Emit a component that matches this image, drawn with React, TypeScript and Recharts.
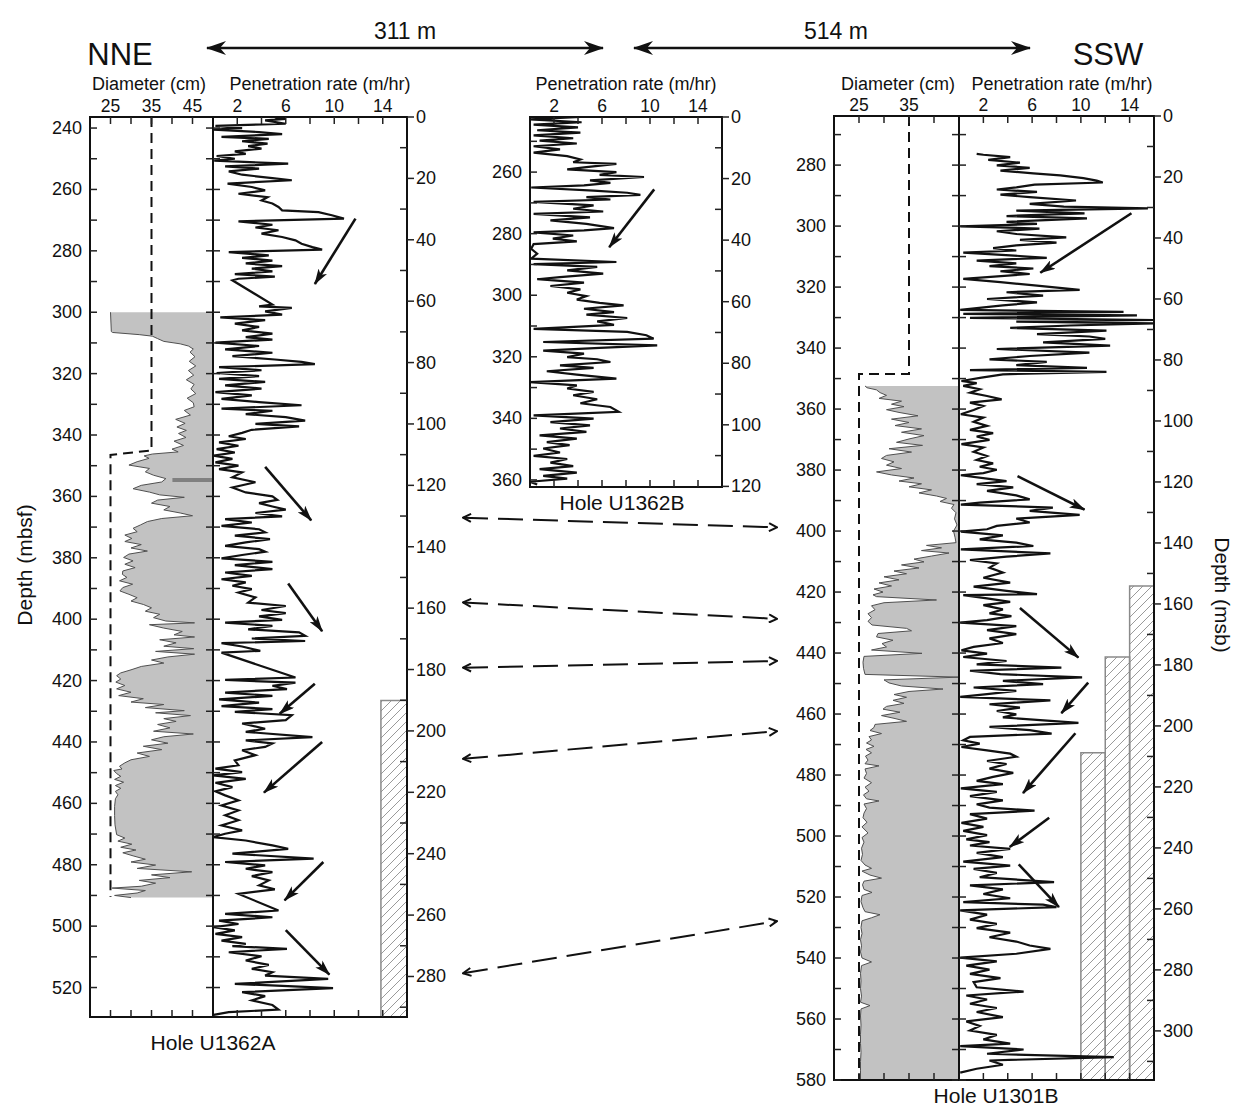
import React from "react";
import { ComposedChart, Line, Area, XAxis, YAxis, ReferenceArea, ReferenceLine } from "recharts";

type Pt = [number, number | null];

const FONT = '"Liberation Sans", Arial, Helvetica, sans-serif';
const M = 60;

// ---------- Hole U1362A (depth mbsf, value) ----------
const u1362aRate: Pt[] = [
  [236.5, 5.1], [237.0, 6.0], [237.5, 4.3], [238.6, 6.0], [239.3, 0.2], [240.0, 2.4], [240.5, 0.05], [241.3, 3.8], [242.0, 5.7], [242.9, 0.7],
  [243.5, 4.6], [244.3, 2.4], [245.1, 4.5], [245.9, 2.9], [246.7, 4.0], [247.6, 1.8], [248.4, 2.7], [249.1, 0.3], [250.0, 1.8], [250.6, 0.1],
  [251.6, 6.2], [252.5, 1.0], [253.2, 3.8], [254.1, 1.3], [255.2, 2.4], [256.3, 4.9], [257.0, 6.5], [258.1, 1.2], [259.2, 3.2], [260.3, 4.3],
  [261.4, 2.1], [262.5, 4.5], [263.6, 4.0], [264.6, 4.9], [265.7, 5.4], [266.8, 5.7], [267.4, 8.7], [268.4, 9.8], [269.5, 10.8], [270.4, 2.1],
  [271.5, 4.9], [272.4, 3.5], [273.3, 5.4], [274.4, 4.0], [275.5, 5.7], [276.6, 6.8], [277.7, 7.3], [278.8, 8.2], [279.6, 9.0], [280.4, 1.3],
  [281.5, 4.6], [282.3, 2.4], [283.2, 4.9], [284.1, 2.7], [285.0, 5.7], [285.8, 3.2], [286.7, 4.9], [287.6, 1.8], [288.4, 5.1], [289.1, 2.1],
  [289.6, 1.6], [293.0, null],
  [297.5, 4.9], [298.1, 3.8], [298.6, 6.5], [299.7, 4.3], [300.8, 5.7], [301.7, 0.6], [302.6, 4.3], [303.7, 1.8], [304.8, 3.8], [305.9, 2.4],
  [307.0, 4.9], [308.1, 2.7], [308.9, 4.9], [309.9, 0.2], [311.0, 3.8], [312.1, 1.0], [313.2, 4.9], [314.3, 1.6], [315.4, 5.1], [316.2, 7.3],
  [316.9, 8.4], [317.9, 0.5], [318.9, 4.0], [319.8, 0.3], [320.8, 3.8], [321.7, 0.5], [322.7, 4.3], [323.8, 1.0], [324.9, 4.0], [326.0, 0.2],
  [327.1, 3.2], [328.2, 0.7], [329.3, 3.8], [330.3, 7.3], [331.4, 0.7], [332.1, 4.9], [333.2, 2.7], [334.2, 6.0], [335.3, 7.6], [336.4, 3.5],
  [337.2, 7.1], [338.3, 3.2], [339.3, 2.4], [340.4, 1.3], [341.3, 2.7], [342.4, 0.5], [343.5, 2.1], [344.6, 0.3], [345.7, 1.8], [346.7, 0.05],
  [347.8, 1.6], [348.9, 0.2], [350.0, 2.1], [351.1, 0.5], [352.2, 2.4], [353.8, 1.6], [355.4, 3.5], [357.1, 1.6], [358.7, 2.7], [360.0, 4.9],
  [361.1, 5.3], [362.2, 3.8], [363.3, 4.9], [364.3, 6.0], [365.4, 3.5], [366.5, 5.7], [367.4, 1.0], [368.5, 3.2], [369.6, 0.7], [370.7, 3.8],
  [371.7, 4.3], [372.8, 1.8], [373.9, 4.7], [375.0, 2.7], [376.1, 1.0], [377.2, 3.8], [378.0, 4.3], [379.1, 2.4], [380.2, 0.7], [381.3, 4.9],
  [382.4, 1.8], [383.7, 4.9], [384.8, 1.0], [385.9, 3.2], [387.0, 0.7], [388.0, 2.7], [389.1, 1.6], [390.2, 3.2], [391.3, 2.1], [392.9, 3.5],
  [394.6, 2.9], [395.7, 6.0], [397.0, 4.0], [398.0, 6.0], [399.1, 3.8], [400.2, 5.7], [401.1, 1.0], [402.2, 4.9], [403.3, 2.9], [404.3, 7.1],
  [405.4, 7.6], [406.3, 3.2], [407.1, 7.6], [407.8, 0.7], [408.9, 2.4], [410.3, 3.9], [410.9, 0.7], [415.0, null],
  [419.0, 6.8], [419.8, 1.0], [420.7, 6.8], [421.7, 4.9], [422.8, 6.1], [423.9, 1.0], [425.0, 4.9], [426.1, 0.5], [427.2, 3.8], [428.3, 0.7],
  [429.3, 4.9], [430.2, 1.8], [431.3, 6.5], [432.9, 6.0], [434.0, 2.4], [435.7, 4.3], [436.7, 2.7], [438.4, 8.2], [439.5, 2.7], [440.5, 4.9],
  [441.6, 4.3], [442.7, 2.4], [444.3, 3.5], [446.0, 1.8], [447.6, 2.1], [448.7, 0.2], [449.8, 2.4], [450.9, 0], [452.0, 2.7], [453.3, 0.2],
  [454.7, 1.6], [456.1, 0.2], [457.4, 1.0], [459.0, 2.1], [460.7, 0.7], [462.3, 2.1], [463.9, 1.0], [465.5, 2.1], [467.2, 0.7], [468.8, 2.4],
  [469.9, 1.0], [471.0, 0], [472.1, 2.7], [473.7, 4.9], [474.8, 6.2], [476.4, 1.6], [478.0, 8.3], [479.1, 1.0], [480.2, 4.3], [481.3, 2.7],
  [482.4, 4.9], [483.7, 3.2], [485.1, 4.6], [486.7, 3.8], [488.0, 5.1], [489.5, 2.1], [492.0, null],
  [494.9, 5.4], [496.0, 1.0], [497.1, 4.9], [498.2, 0.5], [499.3, 2.1], [500.3, 0.05], [501.4, 1.8], [502.5, 0.2], [503.6, 2.4], [504.7, 0.7],
  [505.8, 2.7], [506.5, 1.6], [507.4, 6.1], [508.5, 1.3], [509.8, 4.0], [511.2, 2.7], [512.6, 4.6], [513.9, 3.2], [515.0, 4.9], [516.1, 4.3],
  [517.2, 9.5], [518.8, 1.8], [520.2, 9.9], [521.5, 2.4], [522.8, 4.3], [524.2, 3.2], [525.7, 4.9], [527.2, 5.4], [528.0, 1.3], [528.9, 0.05],
];

const u1362aDiameter: Pt[] = [
  [300.0, 25], [306.3, 25.2], [306.6, 25.5], [307.3, 32], [307.8, 35.2], [308.6, 36.5], [309.5, 38], [310.3, 42], [311.0, 44], [312.0, 45.2],
  [313.0, 44.4], [314.5, 45.6], [316.0, 44.2], [317.5, 45.8], [319.0, 44], [320.5, 45.3], [322.0, 43.5], [323.5, 45.4], [325.0, 44.6], [326.5, 45.8],
  [328.0, 43.7], [329.5, 45.2], [330.8, 45.4], [332.0, 43], [333.5, 44.5], [334.9, 40.9], [336.2, 43.2], [337.4, 41.2], [338.5, 43.5], [339.5, 41.6],
  [340.8, 43.4], [342.0, 40.5], [343.4, 42.8], [344.6, 40.0], [345.5, 41.5], [346.2, 35.2], [346.8, 33.2], [347.6, 34.4], [348.7, 31.5], [349.8, 29.5],
  [350.9, 34.5], [352.0, 33.5], [353.1, 35.5], [354.2, 38.5], [355.3, 37.5], [356.4, 32.5], [357.5, 30.5], [358.6, 34.5], [359.5, 37], [360.3, 43],
  [361.2, 36.5], [362.2, 35], [363.3, 39.5], [364.4, 38], [365.4, 42], [366.3, 45], [367.2, 37.5], [368.2, 34], [369.3, 32.3], [370.4, 30.5],
  [371.5, 31.5], [372.6, 28.5], [373.7, 30.2], [374.7, 28.5], [375.7, 32.5], [376.8, 30], [377.8, 34], [378.8, 29.5], [379.9, 28.2], [381.0, 30.5],
  [382.1, 28.5], [383.2, 31], [384.3, 28], [385.4, 27.9], [386.4, 29], [387.5, 27.2], [388.6, 30.4], [389.7, 28], [390.8, 27.3], [391.9, 29.5],
  [393.0, 31.5], [394.1, 30], [395.2, 33], [396.3, 35], [397.4, 33.5], [398.4, 37], [399.5, 35.5], [400.6, 38.5], [401.2, 45.5], [401.8, 34.5],
  [402.9, 38], [404.0, 42.5], [405.1, 40.5], [405.8, 45.5], [406.7, 37], [407.7, 41], [408.8, 38], [409.6, 45.3], [410.5, 36], [411.4, 45.5],
  [412.3, 39], [413.3, 35], [414.3, 38], [415.4, 32.5], [416.5, 30], [417.5, 27.5], [418.4, 26.5], [419.5, 27.5], [420.5, 26.3], [421.6, 28.5],
  [422.7, 26.5], [423.8, 30], [424.9, 27], [425.9, 33], [427.0, 30], [427.8, 38], [428.8, 33.5], [429.8, 43], [430.5, 36], [431.4, 44.5],
  [432.4, 38], [433.3, 41], [434.3, 36.5], [435.4, 39.5], [436.5, 35.5], [437.4, 45.2], [438.3, 38], [439.3, 35], [440.4, 39], [441.4, 33],
  [442.5, 37.5], [443.6, 31.5], [444.7, 34.5], [445.8, 30], [446.8, 28.5], [447.9, 27.2], [448.8, 27.8], [449.3, 25.8], [450.3, 26.5], [451.2, 27.5],
  [452.2, 26.0], [453.1, 28.2], [454.2, 26.2], [455.1, 27.5], [456.1, 26.2], [457.2, 26.8], [458.5, 26.2], [461.0, 26.0], [464.0, 26.0], [467.0, 26.1],
  [470.2, 26.5], [471.3, 28.5], [472.3, 26.8], [473.3, 30.2], [474.3, 27.5], [475.2, 31.2], [476.1, 28], [477.1, 30.5], [478.2, 33.5], [479.1, 30],
  [480.1, 36], [481.2, 31.5], [482.3, 44.8], [483.3, 35], [484.2, 39.5], [485.1, 32], [486.0, 36], [487.0, 32.5], [487.6, 25.4], [488.4, 33.5],
  [489.2, 31.5], [490.0, 26], [490.7, 30],
];

const u1362aBit: Pt[] = [[236.4, 35], [345.0, 35], [346.5, 25], [490.5, 25]];

// ---------- Hole U1362B ----------
const u1362bRate: Pt[] = [
  [242.1, 4.2], [242.9, 0], [243.8, 4.3], [244.6, 0.3], [245.5, 4.0], [246.4, 0.6], [247.2, 4.2], [248.1, 0.3], [249.0, 3.6], [249.8, 0.8],
  [250.7, 3.9], [251.6, 0.3], [252.6, 2.5], [253.7, 0.3], [254.8, 3.1], [255.9, 4.2], [256.8, 3.6], [257.3, 7.2], [258.4, 4.7], [259.1, 3.1],
  [260.0, 7.2], [260.9, 5.8], [261.6, 9.5], [262.7, 5.0], [263.5, 6.7], [264.3, 4.5], [265.0, 0.1], [266.0, 5.3], [266.7, 8.1], [267.4, 9.2],
  [268.1, 4.7], [268.9, 6.7], [269.7, 0.3], [270.8, 5.3], [271.9, 3.6], [272.8, 6.1], [273.6, 0.3], [274.7, 5.0], [275.7, 1.7], [276.8, 4.7],
  [278.2, 7.0], [278.9, 4.5], [279.6, 0.3], [280.6, 3.6], [281.6, 1.9], [282.5, 3.9], [283.4, 0.3], [284.9, 0.1], [286.5, 0.6], [288.1, 0.1],
  [289.2, 7.2], [289.9, 0.3], [290.8, 5.6], [291.9, 3.1], [293.0, 6.1], [294.1, 2.5], [294.8, 0.6], [295.9, 4.5], [297.0, 1.7], [298.1, 4.2],
  [299.2, 3.1], [300.3, 4.7], [301.4, 3.9], [302.5, 5.8], [303.3, 7.8], [304.4, 4.5], [305.5, 7.0], [306.3, 4.7], [307.4, 8.1], [308.5, 5.6],
  [309.6, 7.0], [310.9, 0.3], [311.9, 8.1], [313.0, 9.7], [314.1, 10.3], [315.2, 1.1], [316.3, 10.6], [317.1, 5.8], [318.0, 1.1], [319.0, 4.5],
  [320.1, 3.1], [320.8, 5.6], [321.7, 6.7], [322.8, 2.5], [323.6, 5.3], [324.7, 1.4], [325.8, 3.9], [327.1, 7.2], [328.2, 0], [329.3, 3.9],
  [330.3, 3.1], [331.4, 5.3], [332.5, 3.6], [333.8, 5.6], [335.1, 4.2], [336.3, 6.7], [337.9, 7.4], [339.0, 0.3], [340.1, 5.3], [341.2, 1.7],
  [342.3, 5.0], [343.3, 2.5], [344.4, 4.7], [345.5, 0.8], [346.6, 3.9], [347.7, 1.4], [348.7, 3.3], [349.8, 1.1], [351.1, 2.5], [352.2, 0.3],
  [353.2, 3.1], [354.4, 1.7], [355.5, 3.6], [356.5, 0.8], [357.6, 3.9], [358.7, 1.1], [359.6, 3.1], [360.6, 0], [361.5, 0.6],
];

// ---------- Hole U1301B ----------
const u1301bRate: Pt[] = [
  [276.3, 1.45], [276.6, 2.0], [277.4, 4.2], [278.3, 2.4], [279.2, 5.0], [280.1, 3.1], [280.9, 5.8], [281.8, 3.4], [282.7, 6.1], [283.4, 8.3],
  [284.3, 10.2], [285.1, 11.3], [285.7, 11.8], [286.4, 6.2], [287.3, 4.7], [288.0, 3.1], [288.8, 6.4], [289.7, 3.4], [290.5, 5.8], [291.6, 9.6],
  [292.7, 5.8], [293.6, 8.6], [294.2, 15.5], [294.9, 4.7], [295.8, 10.3], [296.7, 3.9], [297.5, 10.5], [298.6, 3.9], [299.3, 6.4], [300.1, 0.1],
  [300.8, 6.6], [301.7, 3.1], [302.6, 4.7], [303.7, 8.8], [304.5, 5.0], [305.4, 8.0], [306.3, 4.7], [307.2, 2.8], [308.0, 4.7], [308.7, 0.35],
  [309.6, 4.2], [310.4, 7.2], [311.3, 1.45], [312.2, 4.7], [313.1, 2.5], [313.9, 6.1], [314.8, 3.4], [315.7, 5.8], [317.3, 0.35], [318.4, 3.4],
  [319.5, 6.4], [320.9, 9.9], [321.7, 3.9], [322.8, 6.9], [323.9, 2.3], [325.0, 6.4], [326.0, 3.6], [327.5, 0.1], [328.1, 13.5], [328.8, 0.35],
  [329.3, 14.6], [330.1, 0.9], [330.8, 16], [331.3, 4.7], [331.9, 16], [332.6, 9.1], [333.4, 4.2], [334.3, 12.1], [335.4, 6.4], [336.2, 10.7],
  [337.0, 12.0], [338.1, 6.9], [339.2, 12.4], [340.3, 3.1], [341.5, 10.7], [342.6, 5.8], [343.7, 2.5], [344.5, 7.2], [345.6, 4.7], [346.5, 10.5],
  [347.2, 0.9], [347.8, 12.1], [348.6, 3.6], [349.7, 1.85], [350.8, 0.2], [351.5, 1.45], [352.4, 0.35], [353.5, 1.7], [354.6, 0.9], [355.7, 2.3],
  [356.8, 3.5], [357.9, 0.9], [359.0, 2.0], [360.3, 1.2], [361.7, 0.15], [362.8, 2.0], [364.2, 1.2], [365.5, 2.3], [366.8, 0.9], [367.9, 2.8],
  [369.0, 1.45], [370.1, 2.5], [371.5, 0.2], [372.6, 2.0], [374.0, 1.2], [375.4, 2.3], [376.7, 1.45], [377.8, 2.8], [378.9, 1.7], [379.9, 3.1],
  [381.0, 2.0], [381.7, 0.15], [382.8, 2.3], [383.6, 3.9], [384.6, 1.45], [385.7, 4.45], [386.8, 2.3], [388.3, 4.7], [389.6, 5.8], [390.7, 1.7],
  [391.3, 0.15], [392.3, 7.7], [393.4, 5.8], [394.7, 9.9], [395.9, 4.7], [397.2, 5.8], [398.3, 3.1], [399.4, 2.3], [400.2, 0.15], [401.4, 3.6],
  [402.7, 1.7], [403.8, 4.7], [404.9, 6.1], [406.0, 0.15], [407.3, 7.5], [408.4, 3.9], [409.5, 0.9], [410.6, 3.1], [412.0, 2.5], [413.6, 3.6],
  [415.3, 2.0], [416.9, 4.2], [418.2, 1.2], [419.6, 3.9], [420.7, 6.4], [421.0, 0.35], [422.1, 2.3], [423.2, 4.2], [424.3, 2.0], [425.7, 3.6],
  [427.0, 2.5], [427.9, 4.3], [429.2, 2.3], [430.0, 0.1], [431.2, 4.7], [432.5, 2.3], [433.8, 4.7], [435.2, 2.5], [436.7, 3.6], [438.0, 1.2],
  [439.1, 0.2], [440.2, 2.3], [441.3, 0.35], [442.6, 3.9], [443.7, 1.45], [444.8, 8.4], [445.8, 0.9], [446.9, 3.4], [448.0, 10.1], [449.1, 3.6],
  [450.2, 6.9], [451.3, 1.2], [452.4, 4.7], [453.5, 2.3], [454.4, 0.1], [455.5, 7.5], [456.8, 2.5], [457.9, 5.0], [459.0, 3.1], [460.1, 4.7],
  [461.1, 3.6], [462.9, 9.8], [464.2, 2.5], [465.3, 5.8], [466.4, 7.6], [467.5, 0.9], [468.6, 0.35], [469.7, 1.7], [470.8, 0.2], [471.9, 2.3],
  [473.0, 4.2], [474.0, 4.7], [475.4, 2.3], [476.4, 3.9], [477.9, 2.5], [479.3, 4.45], [480.6, 2.8], [481.9, 1.45], [483.0, 3.6], [484.4, 0.15],
  [485.5, 3.1], [486.9, 0.9], [488.3, 3.6], [489.6, 1.45], [490.7, 2.5], [491.7, 6.2], [492.8, 0.9], [494.3, 2.3], [495.7, 0.2], [497.0, 2.0],
  [498.3, 0.35], [499.7, 2.3], [501.1, 0.6], [502.0, 2.5], [503.1, 0.9], [504.2, 4.2], [505.5, 1.45], [506.9, 3.6], [508.4, 0.35], [509.7, 4.2],
  [510.8, 1.2], [512.1, 3.1], [513.5, 1.7], [515.1, 7.8], [516.2, 0.9], [517.5, 3.6], [519.0, 2.0], [520.4, 4.2], [521.7, 0.35], [522.5, 6.9],
  [523.3, 8.0], [524.4, 0.1], [525.8, 2.3], [527.4, 0.9], [528.8, 3.1], [530.2, 1.45], [531.7, 4.2], [533.2, 2.5], [534.6, 4.7], [535.9, 5.8],
  [537.0, 7.5], [538.6, 4.7], [539.9, 0.1], [541.1, 3.1], [542.5, 0.6], [543.8, 2.5], [545.2, 0.9], [546.6, 3.4], [547.9, 1.2], [549.6, 1.45],
  [551.0, 5.3], [552.3, 0.6], [553.6, 2.3], [555.0, 0.9], [556.4, 3.1], [557.7, 1.45], [559.4, 3.6], [560.8, 0.6], [562.3, 1.7], [563.8, 0.9],
  [565.2, 3.1], [566.7, 2.0], [568.1, 4.2], [568.9, 0.1], [570.0, 5.3], [571.4, 2.3], [572.5, 12.7], [573.6, 2.5], [575.0, 3.6], [576.3, 1.45],
  [577.6, 0.1],
];

const u1301bDiameter: Pt[] = [
  [352.4, 26.2], [353.0, 26.6], [353.7, 28.5], [354.6, 29.2], [355.5, 30.5], [356.5, 29], [357.4, 33.5], [358.4, 31.5], [359.2, 34], [360.2, 30.5],
  [361.1, 33], [362.2, 36.8], [363.3, 31.5], [364.4, 35], [365.4, 32.2], [366.5, 37.5], [367.6, 33.5], [368.7, 38.0], [369.8, 35], [370.9, 32.5],
  [371.9, 37.7], [373.0, 31], [374.1, 35.5], [375.2, 30.5], [376.2, 29.5], [377.3, 32], [378.4, 30.5], [379.5, 33.5], [380.6, 28.5], [381.6, 31.5],
  [382.6, 36], [383.6, 33], [384.5, 37.5], [385.5, 35], [386.5, 39.5], [387.5, 37], [388.5, 40.5], [389.3, 42.5], [390.3, 41.2], [391.3, 44.0],
  [392.5, 43.5], [394.0, 44.4], [396.0, 44.1], [398.0, 44.6], [400.0, 43.9], [402.0, 44.2], [403.8, 44.4], [404.7, 38.5], [405.5, 41.5], [406.4, 37.5],
  [407.2, 43], [408.2, 39.5], [409.2, 36], [410.1, 38], [411.1, 33.5], [412.1, 37], [413.1, 32], [414.0, 34.5], [415.0, 30], [416.0, 33],
  [417.0, 29], [418.0, 31.5], [419.0, 28], [420.0, 29.8], [420.9, 27.8], [421.5, 28.5], [422.6, 40.5], [423.5, 30], [424.5, 27.5], [425.8, 28.2],
  [427.1, 26.8], [428.4, 27.5], [429.6, 26.8], [430.8, 27.6], [431.9, 34.5], [432.7, 35.5], [433.6, 28.8], [434.7, 28.5], [435.8, 31.8], [436.9, 29.6],
  [438.0, 30.5], [439.0, 27.5], [440.1, 37.6], [441.1, 26.0], [443.0, 25.8], [445.0, 25.9], [447.0, 26.2], [447.9, 45], [448.8, 30], [449.8, 31],
  [450.8, 33.5], [451.8, 41.8], [452.6, 35], [453.6, 32], [454.5, 34.5], [455.5, 31.8], [456.5, 34], [457.5, 30.5], [458.4, 29.8], [459.4, 33.2],
  [460.5, 29.5], [461.4, 32], [462.4, 34.5], [463.4, 28.2], [464.4, 28.0], [465.4, 27.2], [466.4, 29.5], [467.4, 27], [468.5, 27.5], [469.5, 26.5],
  [470.6, 28], [471.6, 26.4], [472.7, 27.5], [473.8, 26.3], [475.1, 26.8], [476.3, 26.2], [477.0, 29], [478.0, 26.2], [479.5, 26.5], [481.0, 26.0],
  [482.5, 27.5], [484.0, 26.2], [485.3, 27], [486.5, 25.9], [487.8, 26.5], [488.5, 29], [489.5, 26], [491.0, 26.5], [492.5, 26.0], [494.0, 25.8],
  [495.5, 26.6], [497.0, 25.6], [499.0, 26.8], [500.5, 25.6], [502.0, 26.0], [504.0, 25.5], [506.0, 25.7], [508.0, 25.4], [509.5, 26.2], [510.6, 27.5],
  [511.5, 25.6], [512.8, 27.2], [513.8, 29.5], [514.8, 26], [516.0, 25.7], [517.5, 26], [518.5, 27.6], [519.5, 25.6], [521.5, 25.4], [523.5, 25.8],
  [524.8, 26.2], [525.8, 29.2], [526.8, 27.5], [527.8, 25.6], [530.0, 25.4], [532.0, 25.6], [534.0, 25.3], [536.0, 25.5], [538.0, 25.3], [540.0, 25.6],
  [541.3, 27.5], [542.5, 25.5], [545.0, 25.3], [547.5, 25.4], [550.0, 25.3], [552.5, 25.5], [554.5, 25.3], [555.6, 27.2], [556.7, 25.4], [559.0, 25.3],
  [562.0, 25.4], [565.0, 25.3], [568.0, 25.3], [571.0, 25.4], [574.0, 25.3], [577.0, 25.3], [580.0, 25.3],
];

const u1301bBit: Pt[] = [[263.9, 35], [348.5, 35], [348.5, 25], [580, 25]];

// arrows: [rate from, depth from, rate to, depth to]
const u1362aArrows = [
  [11.75, 269.5, 8.4, 290.8], [4.3, 350.4, 8.1, 367.8], [6.2, 388.4, 9.0, 403.9], [8.4, 421.0, 5.5, 430.8],
  [9.0, 440.0, 4.2, 456.5], [9.1, 479.1, 5.9, 491.6], [6.0, 501.3, 9.6, 515.8],
];
const u1362bArrows = [[10.35, 265.6, 6.6, 284.4]];
const u1301bArrows = [
  [14.15, 295.8, 6.67, 315.3], [4.8, 382.0, 10.3, 393.0], [5.0, 425.2, 9.8, 441.5], [10.6, 449.7, 8.4, 459.7],
  [9.55, 466.3, 5.25, 485.9], [7.4, 494.0, 4.16, 503.6], [4.9, 509.3, 8.2, 523.3],
];

// hatched columns: [rate from, rate to, top depth]
const u1362aHatch = [[13.85, 16, 426.5]];
const u1301bHatch = [[10, 12, 472.7], [12, 14, 441.3], [14, 16, 418.0]];

// correlation tie lines, both ends on the U1301B depth scale (mbsf)
const tieLines = [[395.6, 398.8], [423.4, 428.8], [444.8, 442.6], [474.7, 465.6], [545.0, 527.9]];

// ticks
const rateTicks = [2, 4, 6, 8, 10, 12, 14];
const rateLabels = [2, 6, 10, 14];
const diamTicksA = [25, 30, 35, 40, 45];
const diamLabelsA = [25, 35, 45];
const diamTicksC = [25, 30, 35, 40];
const diamLabelsC = [25, 35];
const u1362aDepthTicks = [240, 250, 260, 270, 280, 290, 300, 310, 320, 330, 340, 350, 360, 370, 380, 390, 400, 410, 420, 430, 440, 450, 460, 470, 480, 490, 500, 510, 520];
const u1362aMsbTicks = [0, 10, 20, 30, 40, 50, 60, 70, 80, 90, 100, 110, 120, 130, 140, 150, 160, 170, 180, 190, 200, 210, 220, 230, 240, 250, 260, 270, 280, 290];
const u1362bDepthTicks = [250, 260, 270, 280, 290, 300, 310, 320, 330, 340, 350, 360];
const u1362bMsbTicks = [0, 10, 20, 30, 40, 50, 60, 70, 80, 90, 100, 110, 120];
const u1301bDepthTicks = [270, 280, 290, 300, 310, 320, 330, 340, 350, 360, 370, 380, 390, 400, 410, 420, 430, 440, 450, 460, 470, 480, 490, 500, 510, 520, 530, 540, 550, 560, 570, 580];
const u1301bMsbTicks = [0, 10, 20, 30, 40, 50, 60, 70, 80, 90, 100, 110, 120, 130, 140, 150, 160, 170, 180, 190, 200, 210, 220, 230, 240, 250, 260, 270, 280, 290, 300, 310];

const toDiam = (pts: Pt[]) => pts.map(([depth, diam]) => ({ depth, diam }));
const toRate = (pts: Pt[]) => pts.map(([depth, rate]) => ({ depth, rate }));

function TopTick(props: any) {
  const { x, payload, h, labels } = props;
  const v = payload.value;
  return (
    <g>
      <line x1={x} x2={x} y1={M} y2={M + 7} stroke="#222" strokeWidth={1.5} />
      <line x1={x} x2={x} y1={M + h - 7} y2={M + h} stroke="#222" strokeWidth={1.5} />
      {labels.includes(v) && (
        <text x={x} y={M - 5} textAnchor="middle" fontSize={17.5} fontFamily={FONT} fill="#111">{v}</text>
      )}
    </g>
  );
}

function LeftTick(props: any) {
  const { y, payload, w, labels, mirror } = props;
  const v = payload.value;
  return (
    <g>
      <line x1={M} x2={M + 7} y1={y} y2={y} stroke="#222" strokeWidth={1.5} />
      {mirror && <line x1={M + w - 7} x2={M + w} y1={y} y2={y} stroke="#222" strokeWidth={1.5} />}
      {labels && v % 20 === 0 && (
        <text x={M - 8} y={y + 6} textAnchor="end" fontSize={18} fontFamily={FONT} fill="#111">{v}</text>
      )}
    </g>
  );
}

function RightTick(props: any) {
  const { y, payload, w } = props;
  const v = payload.value;
  const xr = M + w;
  const major = v % 20 === 0;
  return (
    <g>
      {major ? (
        <line x1={xr} x2={xr + 7} y1={y} y2={y} stroke="#222" strokeWidth={1.5} />
      ) : (
        <line x1={xr - 7} x2={xr} y1={y} y2={y} stroke="#222" strokeWidth={1.5} />
      )}
      {major && (
        <text x={xr + 9} y={y + 6} textAnchor="start" fontSize={18} fontFamily={FONT} fill="#111">{v}</text>
      )}
    </g>
  );
}

const solidArrow = (p: any) => (
  <line x1={p.x1} y1={p.y1} x2={p.x2} y2={p.y2} stroke="#111" strokeWidth={2.6} markerEnd="url(#ahSolid)" />
);
const dashedArrow = (p: any) => (
  <line x1={p.x1} y1={p.y1} x2={p.x2} y2={p.y2} stroke="#111" strokeWidth={2} strokeDasharray="25 10"
    markerStart="url(#ahOpen)" markerEnd="url(#ahOpen)" />
);

function Panel(props: any) {
  const { left, top, w, h, data, xDomain, yDomain, xTicks, xLabels, yTicks, yLabels, mirrorY, rightDomain, rightTicks, children } = props;
  return (
    <div style={{ position: "absolute", left: left - M, top: top - M }}>
      <ComposedChart width={w + 2 * M} height={h + 2 * M} layout="vertical" data={data}
        margin={{ top: M - 1, right: rightDomain ? M - 1 : M, bottom: M, left: M - 1 }}>
        {children}
        <ReferenceArea x1={xDomain[0]} x2={xDomain[1]} y1={yDomain[0]} y2={yDomain[1]} fill="none" fillOpacity={0}
          stroke="#111" strokeWidth={2} ifOverflow="visible" />
        <XAxis type="number" orientation="top" domain={xDomain} allowDataOverflow ticks={xTicks} interval={0}
          height={1} tickSize={0} tickMargin={0} axisLine={false} tickLine={false}
          tick={(p: any) => <TopTick {...p} h={h} labels={xLabels} />} />
        <YAxis type="number" dataKey="depth" domain={yDomain} allowDataOverflow ticks={yTicks} interval={0}
          width={1} tickSize={0} tickMargin={0} axisLine={false} tickLine={false}
          tick={(p: any) => <LeftTick {...p} w={w} labels={yLabels} mirror={mirrorY} />} />
        {rightDomain && (
          <YAxis yAxisId="r" orientation="right" type="number" dataKey="msb" domain={rightDomain} allowDataOverflow
            ticks={rightTicks} interval={0} width={1} tickSize={0} tickMargin={0} axisLine={false} tickLine={false}
            tick={(p: any) => <RightTick {...p} w={w} />} />
        )}
      </ComposedChart>
    </div>
  );
}

const A = { top: 117, h: 900, yDomain: [236.4, 529.6] };
const B = { top: 117, h: 370, yDomain: [242.1, 362.3] };
const C = { top: 116, h: 964, yDomain: [263.9, 580] };

const txt = { fontFamily: FONT, fill: "#111" };

export default function App() {
  const rateA = toRate(u1362aRate);
  const rateB = toRate(u1362bRate);
  const rateC = toRate(u1301bRate);
  const diamA = toDiam(u1362aDiameter);
  const diamC = toDiam(u1301bDiameter);
  const ties = tieLines.map(([a, b]) => ({ t: 0, depth: a, to: b }));
  return (
    <div style={{ position: "absolute", left: 0, top: 0, width: 1241, height: 1110, background: "#fff", overflow: "hidden" }}>
      <svg width={1241} height={1110} style={{ position: "absolute", left: 0, top: 0 }}>
        <defs>
          <marker id="ahSolid" viewBox="0 0 16 10" refX="15" refY="5" markerWidth="16" markerHeight="10"
            markerUnits="userSpaceOnUse" orient="auto">
            <path d="M0,0 L16,5 L0,10 L4,5 z" fill="#111" />
          </marker>
          <marker id="ahOpen" viewBox="0 0 10 10" refX="9" refY="5" markerWidth="10" markerHeight="10"
            markerUnits="userSpaceOnUse" orient="auto-start-reverse">
            <path d="M1,1 L9,5 L1,9" fill="none" stroke="#111" strokeWidth="2" />
          </marker>
          <marker id="ahBig" viewBox="0 0 20 14" refX="19" refY="7" markerWidth="20" markerHeight="14"
            markerUnits="userSpaceOnUse" orient="auto-start-reverse">
            <path d="M0,0 L20,7 L0,14 L6,7 z" fill="#111" />
          </marker>
          <pattern id="hatch" patternUnits="userSpaceOnUse" width="9" height="9">
            <path d="M-1,1 L1,-1 M0,9 L9,0 M8,10 L10,8" stroke="#9a9a9a" strokeWidth="1" />
          </pattern>
        </defs>

        <text x={120} y={65} textAnchor="middle" fontSize={31} {...txt}>NNE</text>
        <text x={1108} y={65} textAnchor="middle" fontSize={31} {...txt}>SSW</text>
        <text x={405} y={39} textAnchor="middle" fontSize={23} {...txt}>311 m</text>
        <text x={836} y={39} textAnchor="middle" fontSize={23} {...txt}>514 m</text>
        <line x1={207} y1={48} x2={603} y2={48} stroke="#111" strokeWidth={2.5} markerStart="url(#ahBig)" markerEnd="url(#ahBig)" />
        <line x1={634} y1={48} x2={1030} y2={48} stroke="#111" strokeWidth={2.5} markerStart="url(#ahBig)" markerEnd="url(#ahBig)" />

        <text x={149} y={90} textAnchor="middle" fontSize={18} {...txt}>Diameter (cm)</text>
        <text x={320} y={90} textAnchor="middle" fontSize={18} {...txt}>Penetration rate (m/hr)</text>
        <text x={626} y={90} textAnchor="middle" fontSize={18} {...txt}>Penetration rate (m/hr)</text>
        <text x={898} y={90} textAnchor="middle" fontSize={18} {...txt}>Diameter (cm)</text>
        <text x={1062} y={90} textAnchor="middle" fontSize={18} {...txt}>Penetration rate (m/hr)</text>

        <text transform="translate(32,565) rotate(-90)" textAnchor="middle" fontSize={21} {...txt}>Depth (mbsf)</text>
        <text transform="translate(1215,595) rotate(90)" textAnchor="middle" fontSize={21} {...txt}>Depth (msb)</text>

        <text x={213} y={1050} textAnchor="middle" fontSize={21} {...txt}>Hole U1362A</text>
        <text x={622} y={510} textAnchor="middle" fontSize={21} {...txt}>Hole U1362B</text>
        <text x={996} y={1103} textAnchor="middle" fontSize={21} {...txt}>Hole U1301B</text>
      </svg>

      {/* U1362A diameter */}
      <Panel left={90} top={A.top} w={123} h={A.h} data={diamA} xDomain={[20, 50]} yDomain={A.yDomain}
        xTicks={diamTicksA} xLabels={diamLabelsA} yTicks={u1362aDepthTicks} yLabels mirrorY>
        <Area data={diamA} dataKey="diam" type="linear" baseValue={50} stroke="#505050" strokeWidth={1}
          fill="#c2c2c2" fillOpacity={1} isAnimationActive={false} dot={false} activeDot={false} />
        <ReferenceArea x1={40.1} x2={50} y1={354.0} y2={355.3} fill="#808080" fillOpacity={1} stroke="none" />
        <Line data={toDiam(u1362aBit)} dataKey="diam" type="linear" stroke="#111" strokeWidth={2} strokeDasharray="10 6"
          dot={false} activeDot={false} isAnimationActive={false} />
      </Panel>

      {/* U1362A penetration rate */}
      <Panel left={213} top={A.top} w={194} h={A.h} data={rateA} xDomain={[0, 16]} yDomain={A.yDomain}
        xTicks={rateTicks} xLabels={rateLabels} yTicks={u1362aDepthTicks} yLabels={false} mirrorY={false}
        rightDomain={[0, 293.2]} rightTicks={u1362aMsbTicks}>
        {u1362aHatch.map(([a, b, d], i) => (
          <ReferenceArea key={"h" + i} x1={a} x2={b} y1={d} y2={A.yDomain[1]} fill="url(#hatch)" fillOpacity={1}
            stroke="#8a8a8a" strokeWidth={1.5} />
        ))}
        <Line data={rateA} dataKey="rate" type="linear" stroke="#111" strokeWidth={2.2}
          dot={false} activeDot={false} isAnimationActive={false} />
        {u1362aArrows.map(([r1, d1, r2, d2], i) => (
          <ReferenceLine key={"a" + i} segment={[{ x: r1, y: d1 }, { x: r2, y: d2 }]} shape={solidArrow} />
        ))}
      </Panel>

      {/* U1362B penetration rate */}
      <Panel left={530} top={B.top} w={192} h={B.h} data={rateB} xDomain={[0, 16]} yDomain={B.yDomain}
        xTicks={rateTicks} xLabels={rateLabels} yTicks={u1362bDepthTicks} yLabels mirrorY={false}
        rightDomain={[0, 120.2]} rightTicks={u1362bMsbTicks}>
        <Line data={rateB} dataKey="rate" type="linear" stroke="#111" strokeWidth={2.2}
          dot={false} activeDot={false} isAnimationActive={false} />
        {u1362bArrows.map(([r1, d1, r2, d2], i) => (
          <ReferenceLine key={"b" + i} segment={[{ x: r1, y: d1 }, { x: r2, y: d2 }]} shape={solidArrow} />
        ))}
      </Panel>

      {/* U1301B diameter */}
      <Panel left={834} top={C.top} w={125} h={C.h} data={diamC} xDomain={[20, 45]} yDomain={C.yDomain}
        xTicks={diamTicksC} xLabels={diamLabelsC} yTicks={u1301bDepthTicks} yLabels mirrorY>
        <Area data={diamC} dataKey="diam" type="linear" baseValue={45} stroke="#505050" strokeWidth={1}
          fill="#c2c2c2" fillOpacity={1} isAnimationActive={false} dot={false} activeDot={false} />
        <Line data={toDiam(u1301bBit)} dataKey="diam" type="linear" stroke="#111" strokeWidth={2} strokeDasharray="10 6"
          dot={false} activeDot={false} isAnimationActive={false} />
      </Panel>

      {/* U1301B penetration rate */}
      <Panel left={959} top={C.top} w={195} h={C.h} data={rateC} xDomain={[0, 16]} yDomain={C.yDomain}
        xTicks={rateTicks} xLabels={rateLabels} yTicks={u1301bDepthTicks} yLabels={false} mirrorY={false}
        rightDomain={[0, 316.1]} rightTicks={u1301bMsbTicks}>
        {u1301bHatch.map(([a, b, d], i) => (
          <ReferenceArea key={"h" + i} x1={a} x2={b} y1={d} y2={C.yDomain[1]} fill="url(#hatch)" fillOpacity={1}
            stroke="#8a8a8a" strokeWidth={1.5} />
        ))}
        <Line data={rateC} dataKey="rate" type="linear" stroke="#111" strokeWidth={2.2}
          dot={false} activeDot={false} isAnimationActive={false} />
        {u1301bArrows.map(([r1, d1, r2, d2], i) => (
          <ReferenceLine key={"c" + i} segment={[{ x: r1, y: d1 }, { x: r2, y: d2 }]} shape={solidArrow} />
        ))}
      </Panel>

      {/* correlation tie lines */}
      <div style={{ position: "absolute", left: 463 - M, top: C.top - M }}>
        <ComposedChart width={314 + 2 * M} height={C.h + 2 * M} layout="vertical" data={ties}
          margin={{ top: M, right: M, bottom: M, left: M }}>
          <XAxis type="number" dataKey="t" domain={[0, 1]} hide allowDataOverflow />
          <YAxis type="number" dataKey="depth" domain={C.yDomain} hide allowDataOverflow />
          {ties.map((d, i) => (
            <ReferenceLine key={"t" + i} segment={[{ x: 0, y: d.depth }, { x: 1, y: d.to }]} shape={dashedArrow} />
          ))}
        </ComposedChart>
      </div>
    </div>
  );
}
